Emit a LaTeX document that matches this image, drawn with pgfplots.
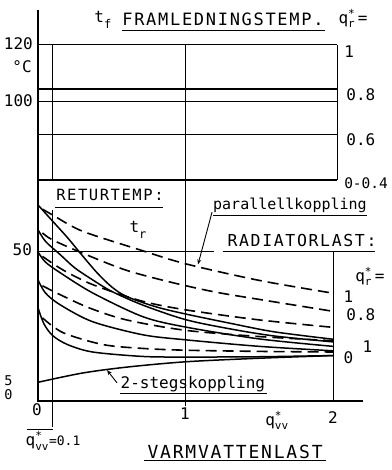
\documentclass[border=0pt]{standalone}
\usepackage{fontspec}
\usepackage{pgfplots}
\pgfplotsset{compat=1.18}
\usetikzlibrary{arrows.meta}
\setmainfont{DejaVu Sans Mono}
\newfontfamily\capsfont{DejaVu Sans Mono}[LetterSpace=10]
\newcommand{\fs}[1]{\fontsize{#1}{#1}\selectfont}
\newcommand{\qs}[1]{$\mbox{q}^{\mbox{\fs{11}*}}_{\mbox{\fs{11}#1}}$}
\tikzset{lab/.style={font=\fs{16}, inner sep=0pt}}
\begin{document}
\begin{tikzpicture}[x=1pt,y=1pt]
\useasboundingbox (0,0) rectangle (391,470);
\begin{axis}[at={(38pt,69pt)},anchor=south west,x=147.5pt,y=2.97pt,
  xmin=0,xmax=2.4,ymin=0,ymax=135,hide axis,clip=false,
  every axis plot/.append style={no marks, black}]
% frame and grid
\draw[line width=1.4pt] (0,-0.3) -- (0,131.6);
\draw[line width=1.4pt] (0,0) -- (2.2,0);
\draw[line width=1.3pt] (2.03,74.5) -- (2.03,120);
\draw[line width=0.8pt] (0,101) -- (2.03,101);
\draw[line width=0.8pt] (1,-1.8) -- (1,120);
\draw[line width=0.9pt] (0.1,74.5) -- (0.1,120);
\draw[line width=0.9pt] (0.1,64.3) -- (0.1,-8.75);
\draw[line width=1.0pt] (2,0) -- (2,50.2);
\draw[line width=0.8pt] (0,50.5) -- (1.19,50.5);
% supply temperature lines
\addplot[line width=1.8pt] coordinates {(0,120) (2.03,120)};
\addplot[line width=1.8pt] coordinates {(0,105) (2.03,105)};
\addplot[line width=1.8pt] coordinates {(0,89.7) (2.03,89.7)};
\addplot[line width=1.8pt] coordinates {(0,74.5) (2.03,74.5)};
% 2-step coupling (solid)
\addplot[line width=1.5pt, smooth] coordinates {(0,66) (0.1,60.5) (0.2,55) (0.3,49) (0.4,43.2) (0.5,38.4) (0.6,35.2) (0.8,31.7) (1.0,29.3) (1.3,26.2) (1.6,23.3) (2,20.8)};
\addplot[line width=1.5pt, smooth] coordinates {(0,57.7) (0.05,53.8) (0.15,49.3) (0.25,44.8) (0.37,40.8) (0.5,36.9) (0.71,32.3) (1.0,27.4) (1.3,24.3) (1.6,21.9) (2,19.9)};
\addplot[line width=1.5pt, smooth] coordinates {(0,50.2) (0.05,46.8) (0.15,43.2) (0.37,36.4) (0.71,28.4) (1.0,24.9) (1.5,20.9) (2,18.4)};
\addplot[line width=1.5pt, smooth] coordinates {(0,40.8) (0.05,36.4) (0.15,32.4) (0.37,26.7) (0.71,22.3) (1.0,20.6) (1.5,18.4) (2,16.9)};
\addplot[line width=1.5pt, smooth] coordinates {(0,31.4) (0.04,26) (0.1,22) (0.2,19) (0.37,16.5) (0.71,15) (1.0,14.8) (1.5,14.9) (2,15.3)};
\addplot[line width=1.5pt, smooth] coordinates {(0,6.3) (0.3,9.4) (0.6,11.4) (1.0,13.2) (1.5,14.4) (2,15.3)};
% parallel coupling (dashed)
\addplot[line width=1.6pt, smooth, dash pattern=on 11pt off 6pt] coordinates {(0.03,64.6) (0.1,62.6) (0.3,57.2) (0.69,50.9) (1.0,46.2) (1.5,40.6) (2,36.3)};
\addplot[line width=1.6pt, smooth, dash pattern=on 11pt off 6pt] coordinates {(0.03,56.6) (0.1,54.2) (0.33,49.2) (0.6,44) (0.9,40) (1.2,36.7) (1.5,34.2) (2,30.2)};
\addplot[line width=1.6pt, smooth, dash pattern=on 11pt off 6pt] coordinates {(0.03,48.7) (0.17,44.1) (0.37,39.2) (0.7,33.7) (1.0,30.7) (1.5,27.3) (2,24.8)};
\addplot[line width=1.6pt, smooth, dash pattern=on 11pt off 6pt] coordinates {(0.03,38.8) (0.15,35.8) (0.35,31.3) (0.6,27.3) (1.0,23.8) (1.5,21.7) (2,20.3)};
\addplot[line width=1.6pt, smooth, dash pattern=on 11pt off 6pt] coordinates {(0.03,28) (0.17,23) (0.44,19) (0.71,17.7) (1.0,17.1) (1.5,16.7) (2,16.5)};
% left tick labels
\node[lab,anchor=east] at (-0.034,120.2) {120};
\node[lab] at (-0.108,112.5) {°C};
\node[lab,anchor=east] at (-0.034,101) {100};
\node[lab,anchor=east] at (-0.04,50.8) {50};
\node[lab,font=\fs{13.5}] at (-0.2,6.8) {5};
\node[lab,font=\fs{13.5}] at (-0.2,2.0) {0};
% bottom tick labels
\node[lab] at (-0.007,-2.8) {0};
\node[lab] at (0.997,-4.2) {1};
\node[lab] at (2.0,-5.6) {2};
\node[lab] at (1.62,-6.6) {\qs{vv}};
\node[lab,anchor=west] at (-0.085,-13.4) {\qs{vv}\fs{13}=0.1};
\draw[line width=0.9pt] (-0.075,-9.6) -- (0.1,-9.6);
\node[lab,font=\capsfont\fs{18}] at (1.336,-17.2) {VARMVATTENLAST};
\draw[line width=0.9pt] (0.72,-19.9) -- (1.95,-19.9);
% top labels
\node[lab] at (0.44,128.3) {t\raisebox{-0.7ex}{\fs{12}f}};
\node[lab,font=\capsfont\fs{17}] at (1.254,128.6) {FRAMLEDNINGSTEMP.};
\draw[line width=0.9pt] (0.57,124.9) -- (1.946,124.9);
\node[lab] at (2.136,128.8) {\qs{r}\,=};
\node[lab,anchor=west] at (2.075,117.5) {1};
\node[lab,anchor=west] at (2.09,103) {0.8};
\node[lab,anchor=west] at (2.09,87.9) {0.6};
\node[lab,anchor=west,font=\fs{14.5}] at (2.075,73.4) {0-0.4};
% lower labels
\node[lab,font=\capsfont\fs{15.5}] at (0.488,69.4) {RETURTEMP:};
\draw[line width=0.9pt] (0.115,65.3) -- (0.847,65.3);
\node[lab] at (0.678,57.6) {t\raisebox{-0.7ex}{\fs{12}r}};
\node[lab,font=\fs{15}] at (1.708,66.0) {parallellkoppling};
\draw[line width=0.9pt] (1.186,62.6) -- (2.23,62.6);
\draw[line width=0.9pt,-{Stealth[length=5pt,width=4pt]}] (1.18,63.6) -- (1.085,46.0);
\node[lab,font=\capsfont\fs{16.5}] at (1.79,53.9) {RADIATORLAST:};
\draw[line width=0.9pt] (1.254,50.2) -- (2.285,50.2);
\node[lab] at (2.25,42.0) {\qs{r}\,=};
\node[lab,anchor=west] at (2.07,35.0) {1};
\node[lab,anchor=west] at (2.09,29.2) {0.8};
\node[lab,anchor=west] at (2.2,18.2) {1};
\node[lab,anchor=west] at (2.07,14.5) {0};
\node[lab,font=\fs{16}] at (1.05,5.6) {2-stegskoppling};
\draw[line width=0.9pt] (0.556,2.4) -- (1.55,2.4);
\draw[line width=0.9pt,-{Stealth[length=5pt,width=4pt]}] (0.536,6.1) -- (0.468,10.4);
\end{axis}
\end{tikzpicture}
\end{document}
